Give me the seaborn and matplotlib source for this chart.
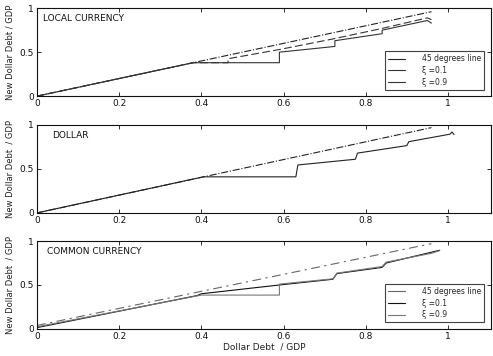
import matplotlib
matplotlib.use("Agg")
import matplotlib.pyplot as plt
import seaborn as sns

# panel 1: local currency
local_45_x = [0, 0.96]
local_45_y = [0, 0.96]
local_01_x = [0, 0.38, 0.465, 0.465, 0.59, 0.72, 0.84, 0.95, 0.96]
local_01_y = [0, 0.38, 0.38, 0.425, 0.53, 0.65, 0.77, 0.89, 0.87]
local_09_x = [0, 0.38, 0.59, 0.59, 0.725, 0.725, 0.84, 0.84, 0.95, 0.96]
local_09_y = [0, 0.38, 0.38, 0.50, 0.565, 0.63, 0.71, 0.75, 0.86, 0.83]

# panel 2: dollar
dollar_45_x = [0, 0.96]
dollar_45_y = [0, 0.97]
dollar_x = [0, 0.405, 0.63, 0.635, 0.775, 0.78, 0.90, 0.905, 1.005, 1.01, 1.015]
dollar_y = [0, 0.41, 0.41, 0.545, 0.61, 0.68, 0.765, 0.81, 0.895, 0.92, 0.89]

# panel 3: common currency
common_45_x = [0, 0.96]
common_45_y = [0.04, 0.97]
common_01_x = [0, 0.39, 0.40, 0.59, 0.72, 0.73, 0.84, 0.85, 0.98]
common_01_y = [0.015, 0.38, 0.40, 0.50, 0.565, 0.63, 0.70, 0.75, 0.895]
common_09_x = [0, 0.40, 0.59, 0.59, 0.72, 0.73, 0.84, 0.85, 0.96, 0.98]
common_09_y = [0.025, 0.385, 0.385, 0.51, 0.57, 0.635, 0.71, 0.76, 0.86, 0.89]

legend_labels = ["45 degrees line", "\u03be =0.1", "\u03be =0.9"]
xticks = [0, 0.2, 0.4, 0.6, 0.8, 1]
xtick_labels = ["0", "0.2", "0.4", "0.6", "0.8", "1"]
yticks = [0, 0.5, 1]
ytick_labels = ["0", "0.5", "1"]

sns.set_style("ticks")
plt.rcParams["font.family"] = ["DejaVu Sans"]
plt.rcParams["font.size"] = 6.5

fig = plt.figure(figsize=(4.93, 3.56), dpi=100)
left, width, height = 0.075, 0.921, 0.247
ax1 = fig.add_axes([left, 0.730, width, height])
ax2 = fig.add_axes([left, 0.402, width, height])
ax3 = fig.add_axes([left, 0.076, width, height])

lw = 0.8
kw = dict(sort=False, estimator=None, errorbar=None, lw=lw)

sns.lineplot(x=local_45_x, y=local_45_y, ax=ax1, color="#222222",
             linestyle="-.", label=legend_labels[0], **kw)
sns.lineplot(x=local_01_x, y=local_01_y, ax=ax1, color="#333333",
             linestyle=(0, (7, 3)), label=legend_labels[1], **kw)
sns.lineplot(x=local_09_x, y=local_09_y, ax=ax1, color="#333333",
             label=legend_labels[2], **kw)

sns.lineplot(x=dollar_45_x, y=dollar_45_y, ax=ax2, color="#222222",
             linestyle="-.", **kw)
sns.lineplot(x=dollar_x, y=dollar_y, ax=ax2, color="#222222", **kw)

sns.lineplot(x=common_45_x, y=common_45_y, ax=ax3, color="#666666",
             linestyle=(0, (8, 4, 2, 4)), label=legend_labels[0], **kw)
sns.lineplot(x=common_01_x, y=common_01_y, ax=ax3, color="#111111",
             label=legend_labels[1], **kw)
sns.lineplot(x=common_09_x, y=common_09_y, ax=ax3, color="#777777",
             label=legend_labels[2], **kw)

titles = ["LOCAL CURRENCY", "DOLLAR", "COMMON CURRENCY"]
title_x = [0.013, 0.033, 0.022]
ylabels = ["New Dollar Debt / GDP", "New Dollar Debt  / GDP", "New Dollar Debt  / GDP"]

for ax, t, tx, yl in zip([ax1, ax2, ax3], titles, title_x, ylabels):
    ax.set_xlim(0, 1.105)
    ax.set_ylim(0, 1)
    ax.set_xticks(xticks)
    ax.set_xticklabels(xtick_labels)
    ax.set_yticks(yticks)
    ax.set_yticklabels(ytick_labels)
    ax.tick_params(direction="in", top=True, right=True, length=3, width=0.6,
                   labelsize=6.5, pad=2, colors="#111111")
    for s in ax.spines.values():
        s.set_linewidth(0.8)
        s.set_color("#111111")
        s.set_visible(True)
    ax.text(tx, 0.88, t, transform=ax.transAxes, fontsize=6.5, va="center",
            color="#111111")
    ax.set_ylabel(yl, fontsize=6, labelpad=4, color="#222222")
    ax.set_xlabel("")

ax3.set_xlabel("Dollar Debt  / GDP", fontsize=6.5, labelpad=1, color="#222222")

for ax in [ax1, ax3]:
    leg = ax.legend(loc="lower right", fontsize=5.5, frameon=True, fancybox=False,
                    edgecolor="#111111", handlelength=2.2, borderpad=0.4,
                    labelspacing=0.35, handletextpad=2.2,
                    bbox_to_anchor=(0.993, 0.03))
    leg.get_frame().set_linewidth(0.8)
    for h in leg.get_lines():
        h.set_linestyle("-")

if ax2.get_legend() is not None:
    ax2.get_legend().remove()

fig.savefig("out.png", dpi=100)
